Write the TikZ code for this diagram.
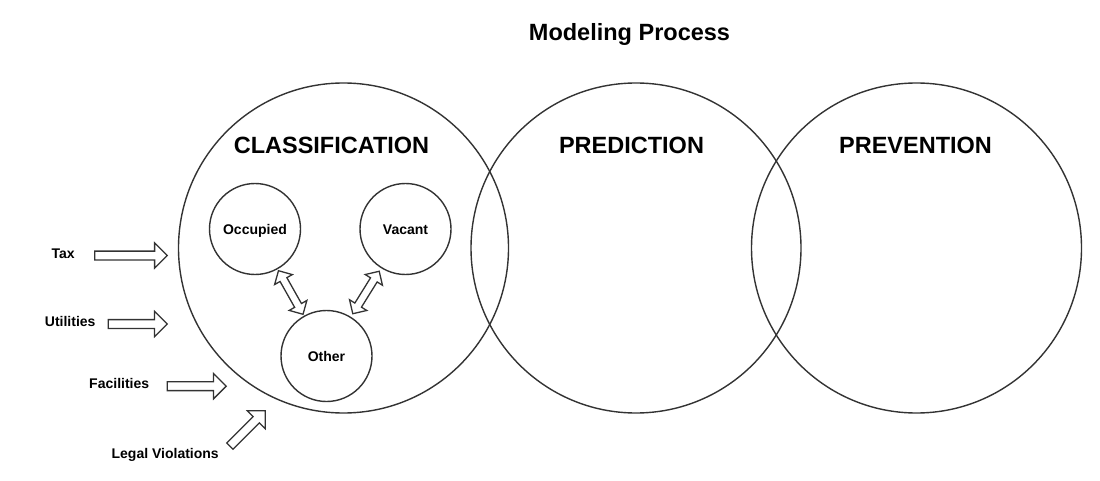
\documentclass[tikz,border=0pt]{standalone}
\usepackage{fontspec}
\setmainfont{Liberation Sans}
\usetikzlibrary{shapes.geometric,shapes.arrows,positioning,calc}
\definecolor{linegray}{HTML}{333333}
\tikzset{
  stage/.style={circle,draw=linegray,line width=1.4pt,minimum size=330pt,inner sep=0pt},
  cls/.style={circle,draw=linegray,line width=1.4pt,minimum size=91pt,inner sep=0pt,
    text height=10pt,text depth=0pt,font=\bfseries\fontsize{14}{16}\selectfont},
  heading/.style={anchor=base,font=\bfseries\fontsize{23.5}{28}\selectfont},
  inlabel/.style={anchor=base,font=\bfseries\fontsize{14}{16}\selectfont},
  inarrow/.style={single arrow,draw=linegray,line width=1.3pt,inner xsep=0pt,inner ysep=3.75pt,
    single arrow head extend=8.25pt,single arrow head indent=0pt},
  dblarrow/.style={double arrow,draw=linegray,line width=1.3pt,inner xsep=0pt,inner ysep=3.25pt,
    double arrow head extend=6.25pt,double arrow head indent=0pt,minimum height=50pt}
}
\begin{document}
\begin{tikzpicture}[x=1pt,y=1pt,node distance=150.5pt,on grid]
   \useasboundingbox (0,0) rectangle (1100,480);
   \node [stage] (class) at (343.5,232) {};
   \node [stage] (pred) [right=292.5pt of class] {};
   \node [stage] (prev) [right=280.5pt of pred] {};
   \node [heading] (title) at (629.5,439.3) {Modeling Process};
   \node [heading] (classT) at (331.5,326.7) {CLASSIFICATION};
   \node [heading] (predT) at (631.5,326.7) {PREDICTION};
   \node [heading] (prevT) at (915.5,326.7) {PREVENTION};
   \node [cls] (occ) at (255,251) {Occupied};
   \node [cls] (vac) [right=of occ] {Vacant};
   \node [cls] (oth) at (326.5,124) {Other};
   \path
    (occ) -- node [dblarrow,sloped] {} (oth)
    (vac) -- node [dblarrow,sloped] {} (oth);
   \node [inarrow,minimum height=72.5pt] (taxA) at (128.8,224.5) {};
   \node [inarrow,minimum height=59pt] (utilA) at (135.5,156) {};
   \node [inarrow,minimum height=59pt] (facA) at (194.5,93.8) {};
   \node [inarrow,minimum height=50pt,rotate=45] (legalA) at (246,50) {};
   \node [inlabel] (tax) at (63.2,221.7) {Tax};
   \node [inlabel] (util) at (70.2,153.3) {Utilities};
   \node [inlabel] (fac) at (119.2,91.7) {Facilities};
   \node [inlabel] (legal) at (165.2,21.3) {Legal Violations};
\end{tikzpicture}
\end{document}
